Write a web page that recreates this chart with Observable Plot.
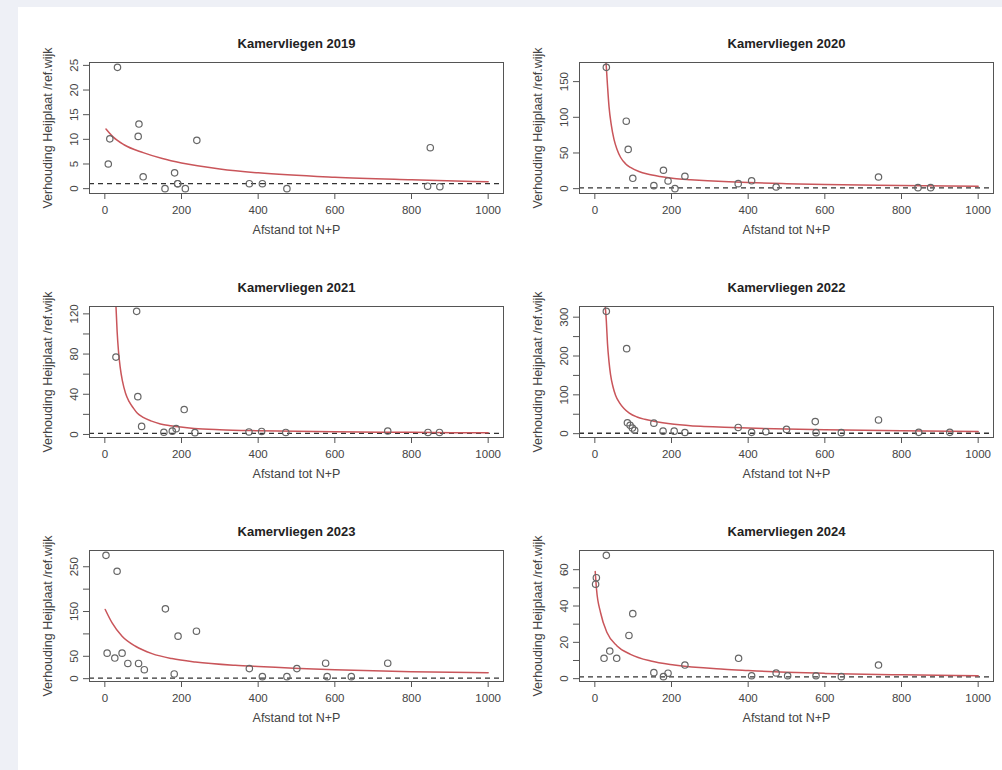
<!DOCTYPE html>
<html><head><meta charset="utf-8">
<script src="https://cdn.jsdelivr.net/npm/d3@7"></script>
<script src="https://cdn.jsdelivr.net/npm/@observablehq/plot@0.6"></script>
<style>
body{margin:0;background:#eef0f6;}
#page{position:relative;width:1002px;height:770px;overflow:hidden;background:#eef0f6;}
#sheet{position:absolute;left:18px;top:7px;right:0;bottom:0;background:#fff;}
</style></head><body><div id="page"><div id="sheet"></div></div>
<script>
const titlePrefix = "Kamervliegen ";
const xTitle = "Afstand tot N+P";
const yTitle = "Verhouding Heijplaat /ref.wijk";
const xTicks = [0, 200, 400, 600, 800, 1000];
const years = ["2019", "2020", "2021", "2022", "2023", "2024"];

// observed points
const x2019 = [9, 13, 33, 87, 89, 100, 157, 182, 190, 190, 210, 240, 377, 411, 475, 842, 849, 874];
const y2019 = [5, 10.1, 24.6, 10.6, 13.1, 2.4, 0, 3.2, 1.0, 1.0, 0, 9.8, 1.0, 1.0, 0, 0.5, 8.3, 0.4];
const x2020 = [30, 82, 87, 99, 154, 179, 191, 209, 235, 374, 409, 473, 740, 843, 876];
const y2020 = [170, 94.5, 55, 14.5, 4.2, 25.8, 10.8, 0, 17.4, 7, 11, 2.3, 16.3, 1.4, 1.4];
const x2021 = [29, 83, 86, 96, 154, 176, 186, 207, 235, 376, 409, 472, 738, 843, 873];
const y2021 = [77, 122.5, 37.6, 8, 2.2, 3.3, 5.8, 24.8, 1.8, 2.5, 3, 2, 3.4, 2, 2];
const x2022 = [30, 83, 85, 92, 98, 104, 154, 178, 207, 235, 374, 409, 446, 500, 575, 577, 643, 740, 845, 926];
const y2022 = [315, 219, 28, 21.5, 14.5, 8.8, 27, 6.5, 6.5, 3, 16, 3.4, 5, 11, 31, 2.6, 2.6, 35.3, 3.4, 3.4];
const x2023 = [3, 6, 26, 32, 45, 60, 88, 103, 158, 181, 191, 239, 377, 411, 475, 501, 576, 580, 643, 738];
const y2023 = [275.5, 57, 46, 240, 57, 34, 34, 20, 156, 10.5, 95, 106, 22.5, 4.5, 4.5, 22.5, 34.5, 4.5, 4.5, 34.5];
const x2024 = [2, 4, 30, 24, 39, 57, 89, 99, 154, 179, 191, 235, 375, 409, 473, 503, 577, 643, 740];
const y2024 = [52, 55.6, 67.9, 11.2, 15.2, 11.2, 23.8, 35.8, 3.3, 1.1, 3, 7.5, 11.2, 1.6, 3.1, 1.6, 1.6, 1.1, 7.5];

// fitted curves
const fx2019 = [3, 20, 50, 100, 150, 200, 300, 400, 600, 800, 1000];
const fy2019 = [12.1, 10.6, 8.9, 7.3, 6.1, 5.2, 4.0, 3.2, 2.3, 1.8, 1.4];
const fx2020 = [28, 30, 33, 37, 43, 50, 58, 67, 80, 93, 115, 137, 170, 207, 250, 294, 350, 400, 500, 600, 800, 1000];
const fy2020 = [185, 170, 145, 115, 89, 69, 55, 44, 35, 29.7, 24, 20.4, 17, 14.3, 12.5, 11, 9.6, 8.5, 7, 5.9, 4.4, 3.2];
const fx2021 = [27, 29, 32, 35.6, 40, 46, 54, 63.5, 75, 85, 100, 120, 145, 172, 233, 300, 400, 600, 800, 1000];
const fy2021 = [150, 128, 103, 83, 67, 53, 41, 32.6, 26, 21, 17, 13.5, 10.5, 8.6, 6, 4.7, 3.7, 2.7, 2.1, 1.6];
const fx2022 = [27, 30, 33, 37, 41, 47, 54, 64, 76, 90, 110, 130, 154, 207, 276, 338, 400, 500, 600, 800, 1000];
const fy2022 = [330, 290, 232, 185, 152, 122, 99, 80, 65, 53, 43, 37, 32, 24.5, 19, 16.5, 14.5, 12, 10, 7.3, 5.5];
const fx2023 = [1, 19, 45, 80, 123, 175, 236, 340, 400, 600, 800, 1000];
const fy2023 = [154.6, 124.6, 94.8, 72.4, 56, 44.8, 37.2, 29.8, 27, 20, 15.7, 13.4];
const fx2024 = [1, 4.4, 15, 32, 58, 93, 146, 207, 337, 400, 500, 600, 800, 1000];
const fy2024 = [59, 49.2, 36.3, 25.3, 18, 13.4, 9.7, 7.5, 5.2, 4.5, 3.5, 2.9, 2.1, 1.6];

// y ticks and labelled ticks
const yTicks2019 = [0, 5, 10, 15, 20, 25], yLab2019 = [0, 5, 10, 15, 20, 25];
const yTicks2020 = [0, 50, 100, 150], yLab2020 = [0, 50, 100, 150];
const yTicks2021 = [0, 20, 40, 60, 80, 100, 120], yLab2021 = [0, 40, 80, 120];
const yTicks2022 = [0, 50, 100, 150, 200, 250, 300], yLab2022 = [0, 100, 200, 300];
const yTicks2023 = [0, 50, 100, 150, 200, 250], yLab2023 = [0, 50, 150, 250];
const yTicks2024 = [0, 10, 20, 30, 40, 50, 60], yLab2024 = [0, 20, 40, 60];

const panels = [
  {year: years[0], x: x2019, y: y2019, fx: fx2019, fy: fy2019, ticks: yTicks2019, labs: yLab2019},
  {year: years[1], x: x2020, y: y2020, fx: fx2020, fy: fy2020, ticks: yTicks2020, labs: yLab2020},
  {year: years[2], x: x2021, y: y2021, fx: fx2021, fy: fy2021, ticks: yTicks2021, labs: yLab2021},
  {year: years[3], x: x2022, y: y2022, fx: fx2022, fy: fy2022, ticks: yTicks2022, labs: yLab2022},
  {year: years[4], x: x2023, y: y2023, fx: fx2023, fy: fy2023, ticks: yTicks2023, labs: yLab2023},
  {year: years[5], x: x2024, y: y2024, fx: fx2024, fy: fy2024, ticks: yTicks2024, labs: yLab2024}
];

const page = document.getElementById("page");
const font = "'Liberation Sans', Arial, sans-serif";
panels.forEach((p, i) => {
  const col = i % 2, row = Math.floor(i / 2);
  const [ymin, ymax] = d3.extent(p.y);
  const pad = (ymax - ymin) * 0.04;
  const pts = p.x.map((x, j) => ({x, y: p.y[j]}));
  const fit = p.fx.map((x, j) => ({x, y: p.fy[j]}));
  const svg = Plot.plot({
    width: 500, height: 244,
    marginLeft: 79, marginRight: 7, marginTop: 62, marginBottom: 51,
    style: {background: "transparent", overflow: "visible", fontFamily: font, color: "#444"},
    x: {domain: [-40, 1040]},
    y: {domain: [ymin - pad, ymax + pad]},
    marks: [
      Plot.axisX(xTicks, {tickSize: 6, tickFormat: () => "", label: null, stroke: "#555"}),
      Plot.axisY(p.ticks, {tickSize: 6, tickFormat: () => "", label: null, stroke: "#555"}),
      Plot.text(xTicks, {x: d => d, frameAnchor: "bottom", dy: 20, text: d => String(d), fontSize: 11.5, fill: "#444"}),
      Plot.text(p.labs, {y: d => d, frameAnchor: "left", dx: -15, rotate: -90, textAnchor: "middle", text: d => String(d), fontSize: 11.5, fill: "#444"}),
      Plot.ruleY([1], {stroke: "#333", strokeWidth: 1.3, strokeDasharray: "5,4"}),
      Plot.line(fit, {x: "x", y: "y", stroke: "#c9555a", strokeWidth: 1.5, curve: "monotone-x", clip: true}),
      Plot.dot(pts, {x: "x", y: "y", r: 3.2, stroke: "#666", fill: "none", strokeWidth: 1.2}),
      Plot.frame({stroke: "#555"}),
      Plot.text([xTitle], {frameAnchor: "bottom", dy: 40, text: d => d, fontSize: 12.5, fill: "#444"}),
      Plot.text([yTitle], {frameAnchor: "left", dx: -42, rotate: -90, textAnchor: "middle", text: d => d, fontSize: 12.5, fill: "#444"}),
      Plot.text([titlePrefix + p.year], {frameAnchor: "top", dy: -24, text: d => d, fontSize: 13, fontWeight: "bold", fill: "#222"})
    ]
  });
  svg.style.position = "absolute";
  svg.style.left = (10 + 490 * col) + "px";
  svg.style.top = (244 * row) + "px";
  page.appendChild(svg);
});
</script>
</body></html>
